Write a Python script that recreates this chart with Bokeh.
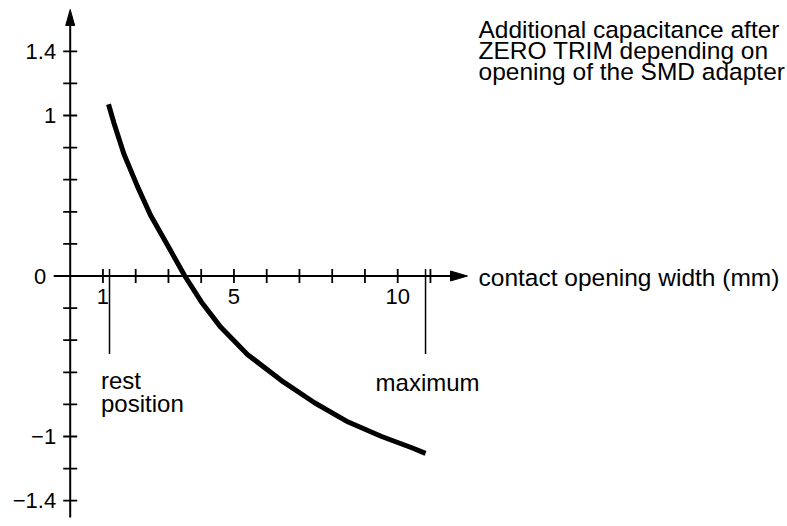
from bokeh.plotting import figure
from bokeh.models import Range1d
from bokeh.embed import file_html
from bokeh.resources import INLINE
from bokeh.core.properties import value
import math

# ---------------- data ----------------
curve_x = [1.17, 1.34, 1.64, 2.05, 2.45, 3.06, 3.5, 4.0, 4.6, 5.42, 6.44, 7.46, 8.49, 9.51, 10.43, 10.85]
curve_y = [1.07, 0.95, 0.76, 0.56, 0.38, 0.16, 0.0, -0.16, -0.32, -0.49, -0.65, -0.79, -0.91, -1.0, -1.07, -1.105]

x_ticks = [1, 2, 3, 4, 5, 6, 7, 8, 9, 10, 11]
x_tick_values = [1, 5, 10]
x_tick_text = ["1", "5", "10"]
y_ticks = [1.4, 1.2, 1.0, 0.8, 0.6, 0.4, 0.2, 0.0, -0.2, -0.4, -0.6, -0.8, -1.0, -1.2, -1.4]
y_tick_values = [1.4, 1.0, -1.0, -1.4]
y_tick_text = ["1.4", "1", "\u22121", "\u22121.4"]
y_zero_text = "0"

rest_x = 1.2
max_x = 10.85
rest_label = ["rest", "position"]
max_label = "maximum"

x_axis_title = "contact opening width (mm)"
title_lines = ["Additional capacitance after", "ZERO TRIM depending on", "opening of the SMD adapter"]

# ---------------- layout ----------------
W, H = 787, 526
PX_X = 32.75      # px per x unit
PX_Y = 160.5      # px per y unit
ORIGIN_X = 69.7   # px position of x = 0
ORIGIN_Y = 275.5  # px position of y = 0
x0 = -ORIGIN_X / PX_X
x1 = x0 + W / PX_X
y1 = ORIGIN_Y / PX_Y
y0 = y1 - H / PX_Y

FONT = value("Liberation Sans")
ink = "black"

p = figure(width=W, height=H, x_range=Range1d(x0, x1), y_range=Range1d(y0, y1),
           output_backend="svg", toolbar_location=None, x_axis_type=None, y_axis_type=None,
           min_border=0, outline_line_color=None)
p.xgrid.visible = False
p.ygrid.visible = False
p.background_fill_color = "white"
p.border_fill_color = "white"

# axes lines
x_axis_left = -16.5 / PX_X
x_tip = (467 - ORIGIN_X) / PX_X
x_base = x_tip - 17 / PX_X
y_bottom = -(517 - ORIGIN_Y) / PX_Y
y_tip = (ORIGIN_Y - 9) / PX_Y
y_base = y_tip - 16 / PX_Y

p.segment(x0=[x_axis_left, 0], y0=[0, y_bottom], x1=[x_base, 0], y1=[0, y_base],
          line_color=ink, line_width=2)
# arrowheads
p.patches(xs=[[x_tip, x_base, x_base], [0, -4.5 / PX_X, 4.5 / PX_X]],
          ys=[[0, 5 / PX_Y, -5 / PX_Y], [y_tip, y_base, y_base]],
          fill_color=ink, line_color=ink, line_width=1)

# ticks
p.scatter(x=x_ticks, y=[0] * len(x_ticks), marker="dash", size=14, angle=math.pi / 2,
          line_color=ink, line_width=1.8)
p.scatter(x=[0] * len(y_ticks), y=y_ticks, marker="dash", size=14,
          line_color=ink, line_width=1.8)

# tick labels
p.text(x=x_tick_values, y=[0] * len(x_tick_values), text=x_tick_text,
       text_align="center", text_baseline="top", y_offset=13,
       text_font=FONT, text_font_size="22px", text_color=ink)
p.text(x=[0] * len(y_tick_values), y=y_tick_values, text=y_tick_text,
       text_align="right", text_baseline="middle", x_offset=-14,
       text_font=FONT, text_font_size="22px", text_color=ink)
p.text(x=[0], y=[0], text=[y_zero_text],
       text_align="right", text_baseline="middle", x_offset=-24,
       text_font=FONT, text_font_size="22px", text_color=ink)

# marker lines for rest / maximum
p.segment(x0=[rest_x, max_x], y0=[7 / PX_Y] * 2, x1=[rest_x, max_x], y1=[-78 / PX_Y] * 2,
          line_color=ink, line_width=1.5)
p.text(x=[rest_x, rest_x], y=[0, 0], text=rest_label, text_align="left", text_baseline="alphabetic",
       x_offset=-8.5, y_offset=[104.5, 127.5],
       text_font=FONT, text_font_size="24px", text_color=ink)
p.text(x=[max_x], y=[0], text=[max_label], text_align="center", text_baseline="alphabetic",
       x_offset=2, y_offset=106,
       text_font=FONT, text_font_size="24px", text_color=ink)

# curve
p.line(x=curve_x, y=curve_y, line_color=ink, line_width=5, line_join="round")

# axis title
p.text(x=[x_tip], y=[0], text=[x_axis_title], text_align="left", text_baseline="middle",
       x_offset=11, y_offset=1, text_font=FONT, text_font_size="24.5px", text_color=ink)

# chart title (top right)
p.text(x=[x_tip] * len(title_lines), y=[y1] * len(title_lines), text=title_lines,
       text_align="left", text_baseline="alphabetic", x_offset=11,
       y_offset=[29, 50, 71], text_font=FONT, text_font_size="24.5px", text_color=ink)

open("out.html", "w").write(file_html(p, INLINE))
